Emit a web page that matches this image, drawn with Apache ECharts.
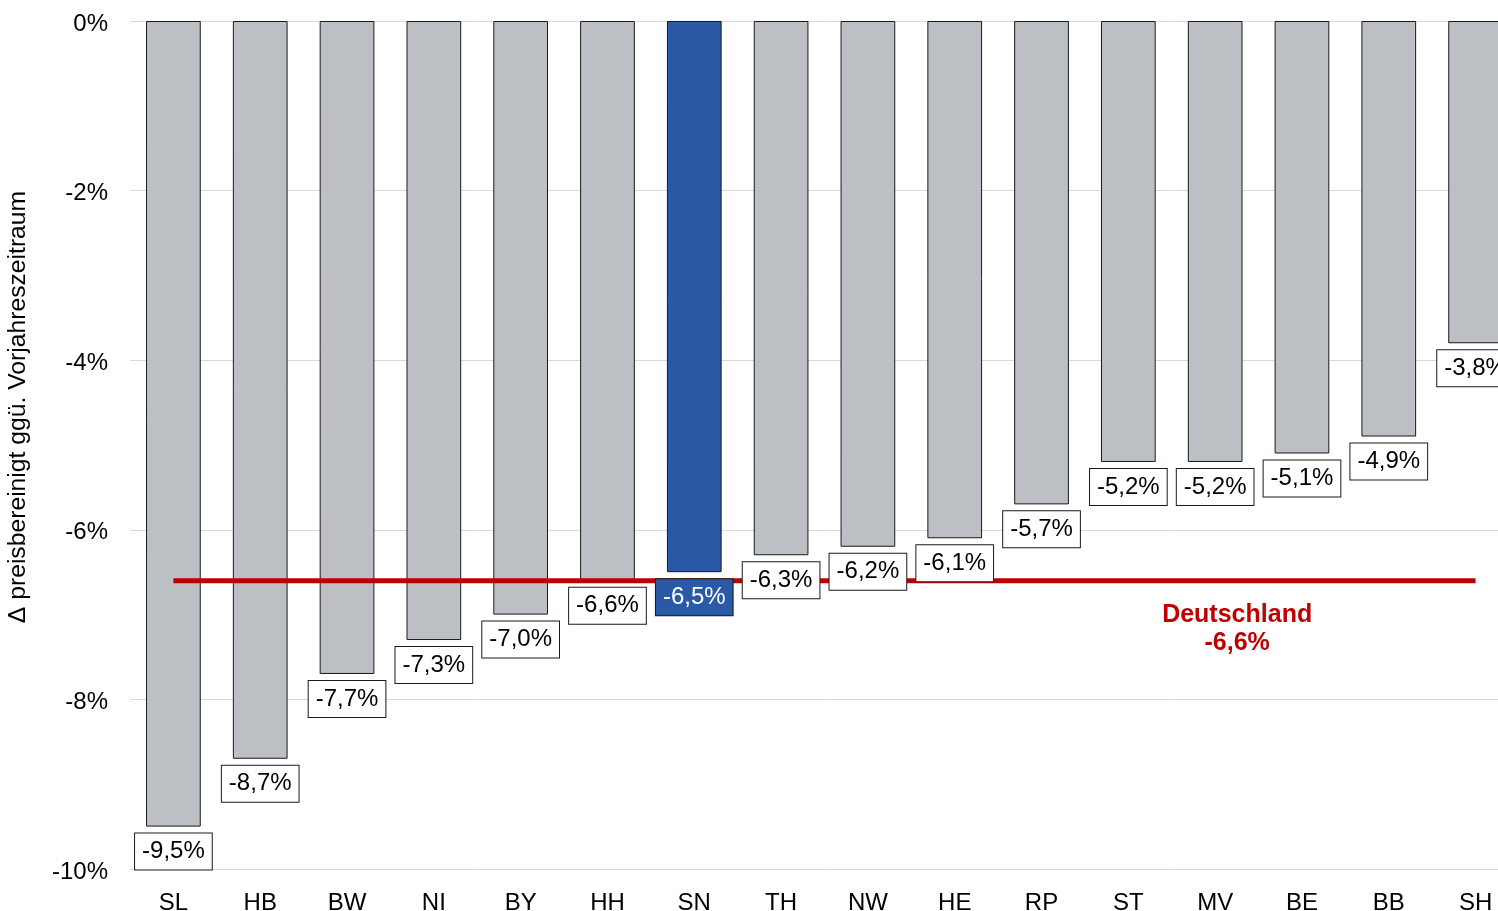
<!DOCTYPE html>
<html>
<head>
<meta charset="utf-8">
<script src="https://cdn.jsdelivr.net/npm/echarts@6/dist/echarts.min.js"></script>
<style>
	html, body { margin: 0; padding: 0; background: #fff; overflow: hidden; }
	#chart { width: 1540px; height: 911px; }
</style>
</head>
<body>
<div id="chart"></div>
<script>
// Bundesländer, sortiert nach Veränderung
var laender = ['SL', 'HB', 'BW', 'NI', 'BY', 'HH', 'SN', 'TH', 'NW', 'HE', 'RP', 'ST', 'MV', 'BE', 'BB', 'SH'];
var werte = [-9.5, -8.7, -7.7, -7.3, -7.0, -6.6, -6.5, -6.3, -6.2, -6.1, -5.7, -5.2, -5.2, -5.1, -4.9, -3.8];
var deutschland = -6.6;
var yTicks = [0, -2, -4, -6, -8, -10];
var markiert = 'SN';

var FONT = '"Liberation Sans", Arial, sans-serif';
var GRAU = '#bcbfc3';
var BLAU = '#2a5aa5';
var ROT = '#c00000';

function pct(v) {
	return v.toFixed(1).replace('.', ',') + '%';
}

// Diagramm ist etwas breiter als das Fenster, SH wird rechts abgeschnitten
var myChart = echarts.init(document.getElementById('chart'));

var balken = werte.map(function(v, i) {
	return {
		value: v,
		itemStyle: { color: laender[i] === markiert ? BLAU : GRAU }
	};
});

// transparente Kopie nur für die Beschriftung (liegt über der roten Linie)
var labelDaten = werte.map(function(v, i) {
	var hi = laender[i] === markiert;
	return {
		value: v,
		label: {
			color: hi ? '#fff' : '#000',
			backgroundColor: hi ? BLAU : '#fff'
		}
	};
});

var option = {
	animation: false,
	textStyle: { fontFamily: FONT },
	grid: { left: 130, top: 21, width: 1389, height: 848, outerBoundsMode: 'none', containLabel: false },
	xAxis: {
		type: 'category',
		data: laender,
		axisLine: { show: false, onZero: false },
		axisTick: { show: false },
		axisLabel: { color: '#000', fontSize: 24, margin: 22, fontFamily: FONT }
	},
	yAxis: {
		type: 'value',
		min: -10,
		max: 0,
		interval: 2,
		axisLine: { show: false },
		axisTick: { show: false },
		splitLine: { lineStyle: { color: '#d9d9d9', width: 1 } },
		axisLabel: {
			color: '#000', fontSize: 24, margin: 22, fontFamily: FONT,
			verticalAlign: 'top',
			lineHeight: 6,
			formatter: function(v) { return yTicks.indexOf(v) >= 0 ? v + '%' : ''; }
		}
	},
	series: [{
		type: 'bar',
		data: balken,
		barWidth: '63%',
		z: 2,
		itemStyle: { borderColor: '#1a1a1a', borderWidth: 1 }
	}, {
		type: 'line',
		data: laender.map(function() { return deutschland; }),
		symbol: 'none',
		z: 3,
		lineStyle: { color: ROT, width: 5 },
		markPoint: {
			symbol: 'circle',
			symbolSize: 0,
			data: [{ coord: ['MV', deutschland] }],
			label: {
				show: true,
				position: 'bottom',
				distance: 20,
				offset: [22, 0],
				align: 'center',
				color: ROT,
				fontSize: 25,
				fontWeight: 'bold',
				lineHeight: 28,
				fontFamily: FONT,
				formatter: 'Deutschland\n' + pct(deutschland)
			}
		}
	}, {
		type: 'bar',
		data: labelDaten,
		barWidth: '63%',
		barGap: '-100%',
		z: 4,
		itemStyle: { color: 'rgba(0,0,0,0)' },
		label: {
			show: true,
			position: 'bottom',
			distance: 7,
			fontSize: 24,
			lineHeight: 24,
			fontFamily: FONT,
			padding: [6, 7, 6, 7],
			borderColor: '#1a1a1a',
			borderWidth: 1,
			formatter: function(p) { return pct(p.value); }
		}
	}],
	graphic: [{
		type: 'text',
		x: 18,
		y: 407,
		rotation: Math.PI / 2,
		style: {
			text: 'Δ preisbereinigt ggü. Vorjahreszeitraum',
			font: '24.7px ' + FONT,
			fill: '#000',
			textAlign: 'center',
			textVerticalAlign: 'middle'
		}
	}]
};

myChart.setOption(option);
</script>
</body>
</html>
